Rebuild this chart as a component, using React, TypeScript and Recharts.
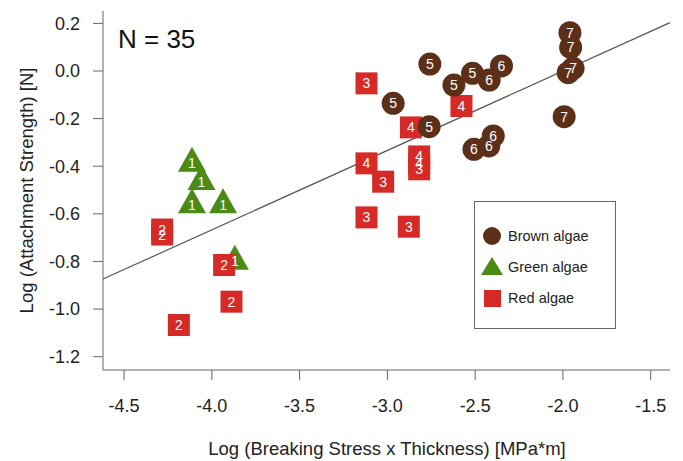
import React from 'react';
import { ScatterChart, Scatter, XAxis, YAxis, ReferenceLine, Label } from 'recharts';

type Pt = { x: number; y: number; n: number };

// values (log units), n = label printed in the symbol
const brownAlgae: Pt[] = [
  { x: -2.758, y: 0.029, n: 5 },
  { x: -2.515, y: -0.01, n: 5 },
  { x: -2.621, y: -0.059, n: 5 },
  { x: -2.42, y: -0.038, n: 6 },
  { x: -2.35, y: 0.021, n: 6 },
  { x: -2.967, y: -0.136, n: 5 },
  { x: -2.762, y: -0.234, n: 5 },
  { x: -2.397, y: -0.273, n: 6 },
  { x: -2.422, y: -0.315, n: 6 },
  { x: -2.507, y: -0.329, n: 6 },
  { x: -1.96, y: 0.161, n: 7 },
  { x: -1.956, y: 0.099, n: 7 },
  { x: -1.942, y: 0.011, n: 7 },
  { x: -1.97, y: -0.007, n: 7 },
  { x: -1.993, y: -0.192, n: 7 },
];

const greenAlgae: Pt[] = [
  { x: -4.113, y: -0.388, n: 1 },
  { x: -4.059, y: -0.465, n: 1 },
  { x: -4.113, y: -0.563, n: 1 },
  { x: -3.936, y: -0.563, n: 1 },
  { x: -3.869, y: -0.8, n: 1 },
];

const redAlgae: Pt[] = [
  { x: -3.119, y: -0.052, n: 3 },
  { x: -2.578, y: -0.147, n: 4 },
  { x: -2.866, y: -0.237, n: 4 },
  { x: -4.283, y: -0.666, n: 2 },
  { x: -4.283, y: -0.687, n: 2 },
  { x: -3.93, y: -0.815, n: 2 },
  { x: -3.888, y: -0.969, n: 2 },
  { x: -4.188, y: -1.067, n: 2 },
  { x: -3.119, y: -0.388, n: 4 },
  { x: -3.024, y: -0.465, n: 3 },
  { x: -2.819, y: -0.359, n: 4 },
  { x: -2.819, y: -0.388, n: 4 },
  { x: -2.819, y: -0.413, n: 3 },
  { x: -3.119, y: -0.615, n: 3 },
  { x: -2.878, y: -0.654, n: 3 },
];

const xTicks = [-4.5, -4, -3.5, -3, -2.5, -2, -1.5];
const yTicks = [-1.2, -1, -0.8, -0.6, -0.4, -0.2, 0, 0.2];
const fitLine = [
  { x: -4.62, y: -0.874 },
  { x: -1.39, y: 0.203 },
];

const allPoints = [...greenAlgae, ...redAlgae, ...brownAlgae];

const BROWN = '#5c2f18';
const GREEN = '#4b8a14';
const RED = '#d52a25';
const AXIS = '#666';
const FONT = '"Liberation Sans", Arial, Helvetica, sans-serif';

const circleShape = (p: any) => <circle cx={p.cx} cy={p.cy} r={11.5} fill={BROWN} />;
const squareShape = (p: any) => <rect x={p.cx - 11} y={p.cy - 11} width={22} height={22} fill={RED} />;
const triangleShape = (p: any) => (
  <polygon
    points={`${p.cx},${p.cy - 16.7} ${p.cx - 14},${p.cy + 8.3} ${p.cx + 14},${p.cy + 8.3}`}
    fill={GREEN}
  />
);
const numberShape = (p: any) => (
  <text x={p.cx} y={p.cy} dy="0.36em" textAnchor="middle" fill="#fff" fontSize={14} fontFamily={FONT}>
    {p.payload.n}
  </text>
);

const yTitle = () => (
  <text
    x={27}
    y={190.5}
    transform="rotate(-90, 27, 190.5)"
    textAnchor="middle"
    dy="0.35em"
    fill="#222"
    fontSize={18.5}
    fontFamily={FONT}
  >
    Log (Attachment Strength) [N]
  </text>
);

const xTitle = () => (
  <text x={387} y={449} textAnchor="middle" dy="0.35em" fill="#222" fontSize={18.5} fontFamily={FONT}>
    Log (Breaking Stress x Thickness) [MPa*m]
  </text>
);

const legendItems = [
  { name: 'Brown algae', kind: 'circle', color: BROWN },
  { name: 'Green algae', kind: 'triangle', color: GREEN },
  { name: 'Red algae', kind: 'square', color: RED },
];

const LegendBox = () => (
  <div
    style={{
      position: 'absolute',
      left: 474,
      top: 201,
      width: 140,
      height: 126,
      border: '1px solid #666',
      background: '#fff',
      fontFamily: FONT,
      fontSize: 14.5,
      color: '#222',
    }}
  >
    {legendItems.map((it, i) => (
      <div key={it.name} style={{ position: 'absolute', left: 0, top: 22 + i * 31, height: 24, display: 'flex', alignItems: 'center' }}>
        <svg width={34} height={24}>
          {it.kind === 'circle' && <circle cx={17} cy={12} r={9} fill={it.color} />}
          {it.kind === 'triangle' && <polygon points="17,2 6,20 28,20" fill={it.color} />}
          {it.kind === 'square' && <rect x={9} y={4} width={17} height={17} fill={it.color} />}
        </svg>
        <span style={{ marginLeft: -1 }}>{it.name}</span>
      </div>
    ))}
  </div>
);

export default function App() {
  return (
    <div style={{ position: 'fixed', left: 0, top: 0, width: 683, height: 461, background: '#fff' }}>
      <ScatterChart width={683} height={461} margin={{ top: 11, right: 13, left: 0, bottom: 0 }}>
        <XAxis
          type="number"
          dataKey="x"
          domain={[-4.62, -1.39]}
          ticks={xTicks}
          tickFormatter={(v: number) => v.toFixed(1)}
          height={91}
          tickSize={10}
          tickMargin={19}
          stroke={AXIS}
          tick={{ fill: '#222', fontSize: 18, fontFamily: FONT }}
          allowDataOverflow
        >
          <Label content={xTitle} />
        </XAxis>
        <YAxis
          type="number"
          dataKey="y"
          domain={[-1.256, 0.252]}
          ticks={yTicks}
          tickFormatter={(v: number) => v.toFixed(1)}
          width={103}
          tickSize={10}
          tickMargin={13}
          stroke={AXIS}
          tick={{ fill: '#222', fontSize: 18, fontFamily: FONT }}
          allowDataOverflow
        >
          <Label content={yTitle} />
        </YAxis>
        <Scatter data={greenAlgae} shape={triangleShape} isAnimationActive={false} />
        <Scatter data={redAlgae} shape={squareShape} isAnimationActive={false} />
        <Scatter data={brownAlgae} shape={circleShape} isAnimationActive={false} />
        <Scatter data={allPoints} shape={numberShape} isAnimationActive={false} />
        <ReferenceLine segment={fitLine} stroke="#555" strokeWidth={1.2} ifOverflow="visible" />
      </ScatterChart>
      <div style={{ position: 'absolute', left: 118, top: 24, fontFamily: FONT, fontSize: 26, color: '#111', lineHeight: '30px' }}>
        N = 35
      </div>
      <LegendBox />
    </div>
  );
}
